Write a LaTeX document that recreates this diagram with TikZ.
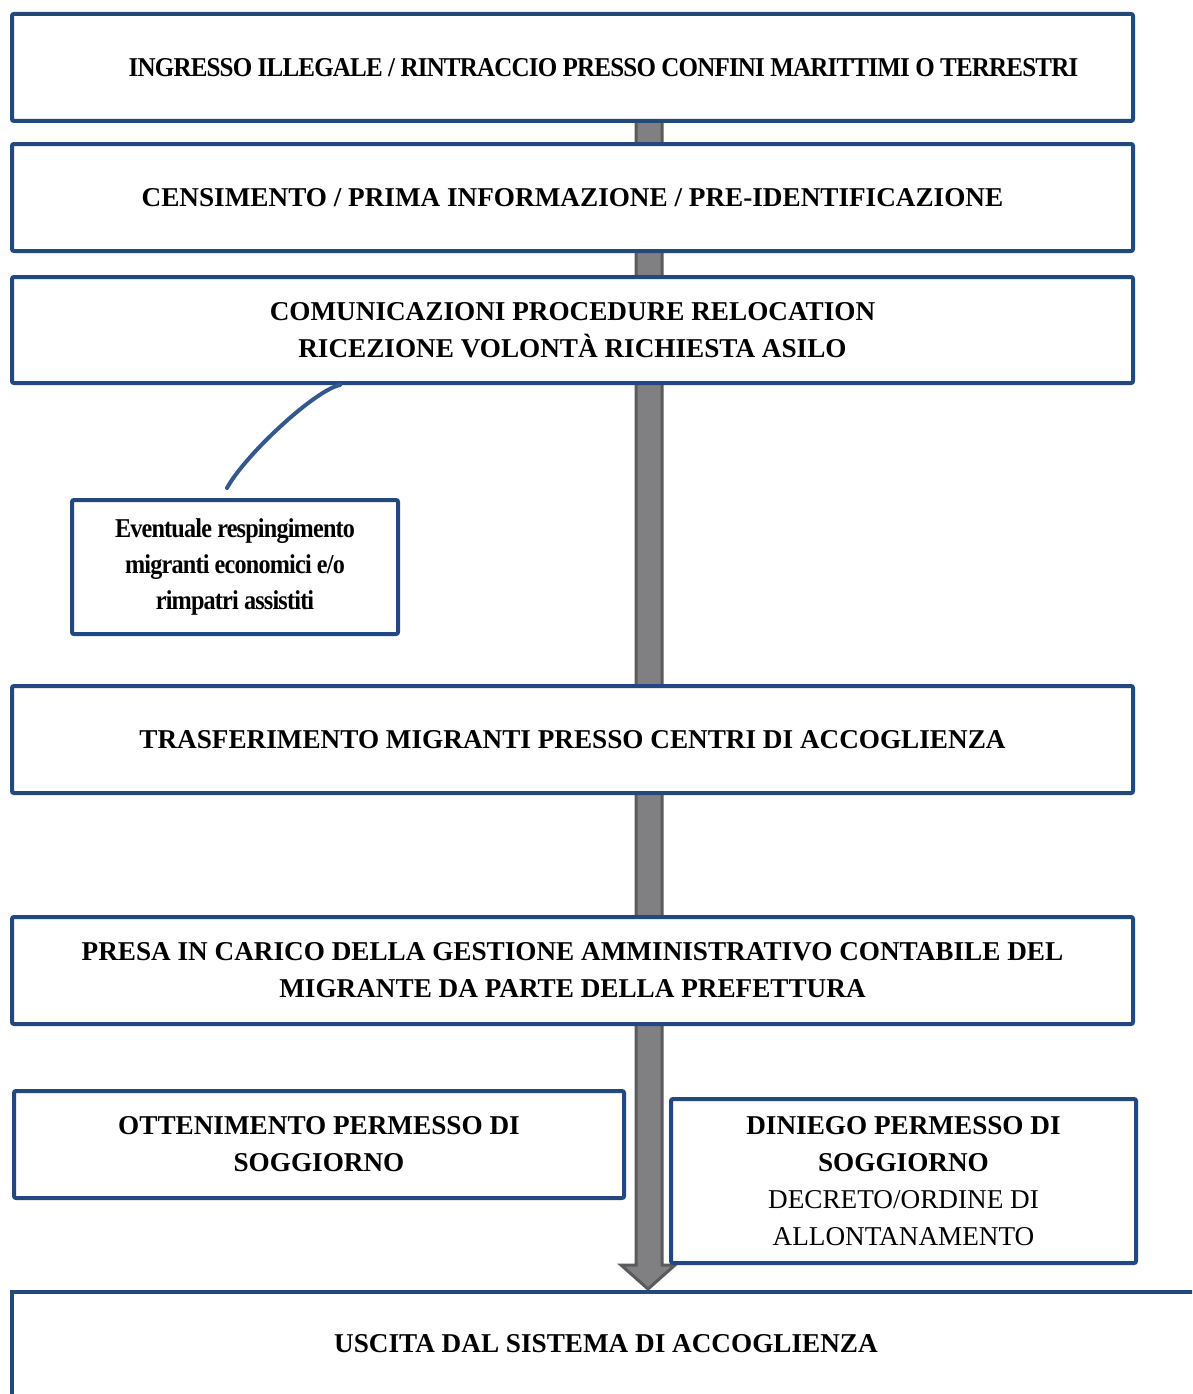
\documentclass[tikz,border=0pt]{standalone}
\usepackage{fontspec}
\usetikzlibrary{calc}
\setmainfont{Liberation Serif}
\newfontfamily\condfont{Liberation Serif}[FakeStretch=0.92,LetterSpace=-3]
\newfontfamily\condfontb{Liberation Serif}[FakeStretch=0.89,LetterSpace=-3]
\definecolor{boxblue}{RGB}{33,73,125}
\definecolor{curveblue}{RGB}{52,88,140}
\definecolor{arrowfill}{RGB}{128,128,131}
\definecolor{arrowedge}{RGB}{90,90,92}
\tikzset{
  box/.style={draw=boxblue, line width=4pt, fill=white, rounded corners=2pt, align=center, inner sep=0pt, font=\fontsize{27.2}{37}\selectfont\bfseries},
  condbox/.style={box, font=\fontsize{27.2}{36}\selectfont\condfontb\bfseries}
}
\begin{document}
\begin{tikzpicture}[x=1pt,y=-1pt]
\useasboundingbox (0,0) rectangle (1192,1394);
\clip (0,0) rectangle (1192,1394);
\fill[white] (0,0) rectangle (1192,1394);
% main arrow
\draw[fill=arrowfill, draw=arrowedge, line width=3pt, line join=miter]
  (636,121) -- (662,121) -- (662,1265) -- (675,1265) -- (648,1289) -- (621,1265) -- (636,1265) -- cycle;
% boxes
\node[box, minimum width=1121pt, minimum height=107pt] (b1) at (572.5,67.5)
  {\hspace*{62pt}{\condfont\bfseries INGRESSO ILLEGALE / RINTRACCIO PRESSO CONFINI MARITTIMI O TERRESTRI}};
\node[box, minimum width=1121pt, minimum height=107pt] (b2) at (572.5,197.5)
  {CENSIMENTO / PRIMA INFORMAZIONE / PRE-IDENTIFICAZIONE};
\node[box, minimum width=1121pt, minimum height=106pt] (b3) at (572.5,330)
  {COMUNICAZIONI PROCEDURE RELOCATION\\RICEZIONE VOLONTÀ RICHIESTA ASILO};
\node[condbox, minimum width=326pt, minimum height=134pt] (b4) at (235,567)
  {Eventuale respingimento\\migranti economici e/o\\rimpatri assistiti};
\node[box, minimum width=1121pt, minimum height=107pt] (b5) at (572.5,739.5)
  {TRASFERIMENTO MIGRANTI PRESSO CENTRI DI ACCOGLIENZA};
\node[box, minimum width=1121pt, minimum height=107pt] (b6) at (572.5,970.5)
  {PRESA IN CARICO DELLA GESTIONE AMMINISTRATIVO CONTABILE DEL\\MIGRANTE DA PARTE DELLA PREFETTURA};
\node[box, minimum width=610pt, minimum height=107pt] (b7) at (319,1144.5)
  {OTTENIMENTO PERMESSO DI\\SOGGIORNO};
\node[box, minimum width=465pt, minimum height=164pt] (b8) at (903.5,1181)
  {DINIEGO PERMESSO DI\\SOGGIORNO\\{\mdseries DECRETO/ORDINE DI}\\{\mdseries ALLONTANAMENTO}};
\draw[draw=boxblue, line width=4pt] (1200,1292) -- (12,1292) -- (12,1400);
\node[font=\fontsize{27.2}{37}\selectfont\bfseries] (b9) at (606,1344) {USCITA DAL SISTEMA DI ACCOGLIENZA};
% curved connector
\coordinate (c1) at ($(b3.south west)+(330,0)$);
\coordinate (c2) at (227,488);
\draw[curveblue, line width=4pt, line cap=round] (c1) .. controls (315,390) and (245,455) .. (c2);
\end{tikzpicture}
\end{document}
